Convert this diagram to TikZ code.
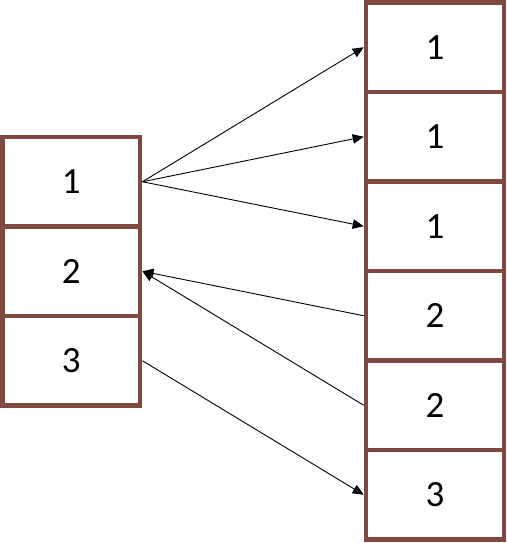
\documentclass[tikz,border=0pt]{standalone}
\usepackage{fontspec}
\setmainfont{Carlito}
\usetikzlibrary{arrows.meta}
\definecolor{boxbrown}{RGB}{125,73,65}
\begin{document}
\begin{tikzpicture}[x=1pt,y=-1pt,
  cell/.style={draw=boxbrown,line width=4.6pt,fill=white,minimum width=137.8pt,minimum height=89.5pt,inner sep=0pt,font=\fontsize{37}{40}\selectfont},
  link/.style={line width=0.9pt,-{Triangle[length=11pt,width=9.5pt]}}]
\useasboundingbox (0,0) rectangle (506,543);
\node[cell] (L1) at (71.25,181.75) {1};
\node[cell] (L2) at (71.25,271.25) {2};
\node[cell] (L3) at (71.25,360.75) {3};
\node[cell] (R1) at (434.9,47.25) {1};
\node[cell] (R2) at (434.9,136.75) {1};
\node[cell] (R3) at (434.9,226.25) {1};
\node[cell] (R4) at (434.9,315.75) {2};
\node[cell] (R5) at (434.9,405.25) {2};
\node[cell] (R6) at (434.9,494.75) {3};
\draw[link] (L1.east) -- (R1.west);
\draw[link] (L1.east) -- (R2.west);
\draw[link] (L1.east) -- (R3.west);
\draw[link] (R4.west) -- (L2.east);
\draw[link] (R5.west) -- (L2.east);
\draw[link] (L3.east) -- (R6.west);
\end{tikzpicture}
\end{document}
